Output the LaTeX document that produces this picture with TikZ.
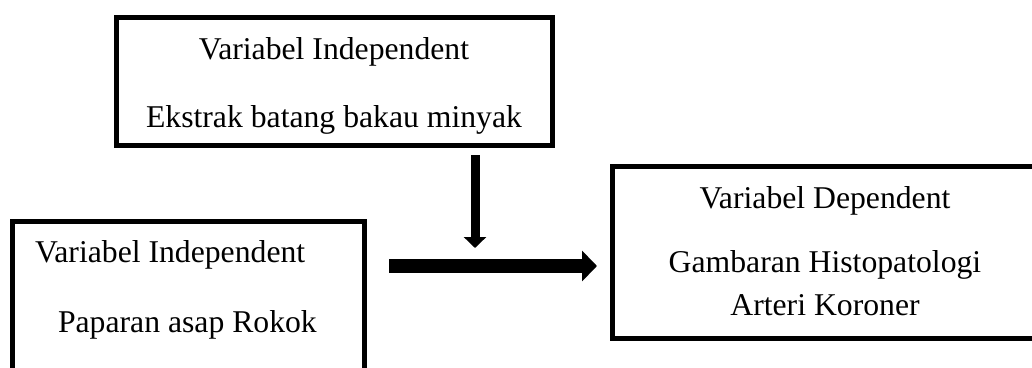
\documentclass[tikz,border=0pt]{standalone}
\usepackage{fontspec}
\setmainfont{Liberation Serif}
\usetikzlibrary{arrows.meta}
\begin{document}
\begin{tikzpicture}[x=1pt,y=-1pt,
  box/.style={draw=black, line width=5pt, rectangle, outer sep=0pt, inner sep=0pt, fill=none},
  txt/.style={inner sep=0pt, outer sep=0pt, font=\fontsize{31.7pt}{38pt}\selectfont},
  vflow/.style={line width=9pt, -{Triangle[width=22pt,length=11pt]}},
  hflow/.style={line width=14pt, -{Triangle[width=30pt,length=15pt]}}]
\clip (0,0) rectangle (1032,367);
\fill[white] (0,0) rectangle (1032,367);
% boxes
\node[box, minimum width=436pt, minimum height=128pt] (top) at (334,81) {};
\node[box, minimum width=352pt, minimum height=179pt] (left) at (188,310.5) {};
\node[box, minimum width=426pt, minimum height=172pt] (right) at (825,252) {};
% texts
\node[txt, anchor=base] (t1) at (334,59) {Variabel Independent};
\node[txt, anchor=base] (t2) at (334,127) {Ekstrak batang bakau minyak};
\node[txt, anchor=base west] (l1) at (35,262) {Variabel Independent};
\node[txt, anchor=base west] (l2) at (58,332) {Paparan asap Rokok};
\node[txt, anchor=base] (r1) at (825,208) {Variabel Dependent};
\node[txt, anchor=base] (r2) at (825,272) {Gambaran Histopatologi};
\node[txt, anchor=base] (r3) at (825,315) {Arteri Koroner};
% arrows
\coordinate (junction) at (475,266);
\draw[hflow, shorten <=25pt, shorten >=15pt] (left.east |- junction) -- (right.west |- junction);
\draw[vflow, shorten <=10pt, shorten >=18pt] (top.south -| junction) -- (junction);
\end{tikzpicture}
\end{document}
